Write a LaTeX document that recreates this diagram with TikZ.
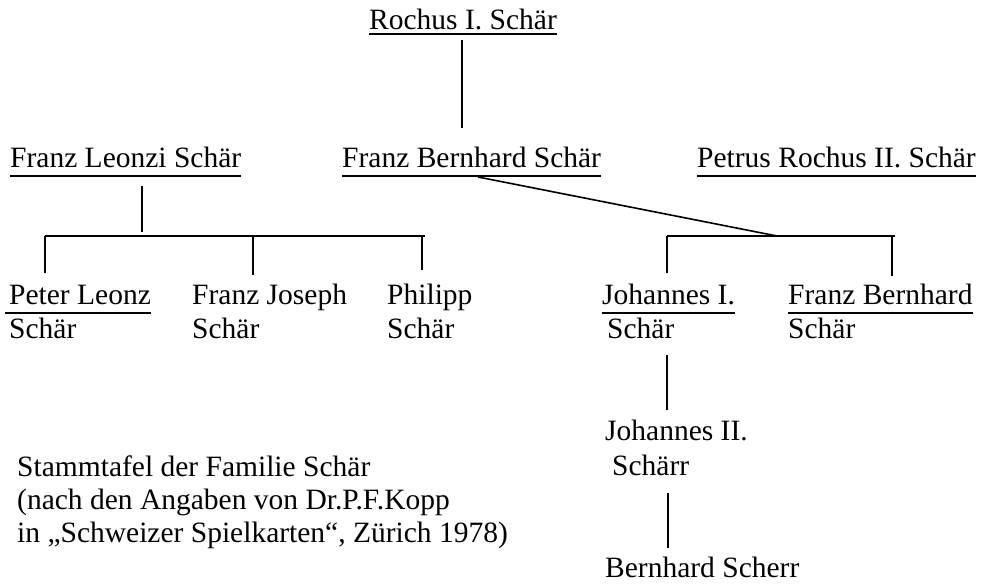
\documentclass[tikz,border=0pt]{standalone}
\usepackage{fontspec}
\setmainfont{Liberation Serif}
\begin{document}
\begin{tikzpicture}[x=1pt,y=-1pt,
  lbl/.style={anchor=base west, inner sep=0pt, font=\fontsize{29.5}{33}\selectfont},
  uline/.style={line width=1.3pt},
  conn/.style={line width=1.2pt},
  diag/.style={line width=1.6pt}]
\useasboundingbox[fill=white] (0,0) rectangle (988,585);

% generation 1
\node[lbl] (rochus) at (369,30) {Rochus I. Schär};
\draw[uline] ([yshift=-4pt]rochus.base west) -- ([yshift=-4pt]rochus.base east);

% generation 2
\node[lbl] (leonzi) at (10,168) {Franz Leonzi Schär};
\node[lbl] (bernhard) at (342,168) {Franz Bernhard Schär};
\node[lbl] (petrus) at (697,168) {Petrus Rochus II. Schär};
\foreach \n in {leonzi,bernhard,petrus}
  \draw[uline] ([yshift=-8pt]\n.base west) -- ([yshift=-8pt]\n.base east);

% generation 3
\node[lbl] (peter) at (9,305) {Peter Leonz};
\node[lbl] (peterB) at (9,338) {Schär};
\node[lbl] (joseph) at (192,305) {Franz Joseph};
\node[lbl] (josephB) at (192,338) {Schär};
\node[lbl] (philipp) at (387,305) {Philipp};
\node[lbl] (philippB) at (387,338) {Schär};
\node[lbl] (johI) at (602,305) {Johannes I.};
\node[lbl] (johIB) at (607,338) {Schär};
\node[lbl] (fb) at (788,305) {Franz Bernhard};
\node[lbl] (fbB) at (788,338) {Schär};
\draw[uline] ([xshift=-4pt,yshift=-8pt]peter.base west) -- ([yshift=-8pt]peter.base east);
\draw[uline] ([yshift=-8pt]johI.base west) -- ([yshift=-8pt]johI.base east);
\draw[uline] ([yshift=-8pt]fb.base west) -- ([yshift=-8pt]fb.base east);

% later generations
\node[lbl] (johII) at (605,440) {Johannes II.};
\node[lbl] (johIIB) at (612,475) {Schärr};
\node[lbl] (scherr) at (605,577) {Bernhard Scherr};

% caption
\node[lbl] (cap1) at (17,476) {Stammtafel der Familie Schär};
\node[lbl] (cap2) at (17,509) {(nach den Angaben von Dr.P.F.Kopp};
\node[lbl] (cap3) at (17,542) {in „Schweizer Spielkarten“, Zürich 1978)};

% junction coordinates
\coordinate (r0) at (462,40);
\coordinate (r1) at (462,128);
\coordinate (l0) at (142,186);
\coordinate (l1) at (142,232);
\coordinate (lh0) at (45,236);
\coordinate (lh1) at (425,236);
\coordinate (lm) at (253,236);
\coordinate (lr) at (422,236);
\coordinate (lp) at (45,273);
\coordinate (lj) at (253,275);
\coordinate (lph) at (422,270);
\coordinate (b0) at (478,177);
\coordinate (b1) at (777,236);
\coordinate (bh0) at (667,236);
\coordinate (bh1) at (895,236);
\coordinate (br) at (892,236);
\coordinate (bj) at (667,273);
\coordinate (bf) at (892,276);
\coordinate (j0) at (667,355);
\coordinate (j1) at (667,410);
\coordinate (k0) at (668,493);
\coordinate (k1) at (668,548);

% connectors
\draw[conn] (r0) -- (r1);
\draw[conn] (l0) -- (l1);
\draw[conn] (lh0) -- (lh1);
\draw[conn] (lh0) -- (lp);
\draw[conn] (lm) -- (lj);
\draw[conn] (lr) -- (lph);
\draw[diag] (b0) -- (b1);
\draw[conn] (bh0) -- (bh1);
\draw[conn] (bh0) -- (bj);
\draw[conn] (br) -- (bf);
\draw[conn] (j0) -- (j1);
\draw[conn] (k0) -- (k1);
\end{tikzpicture}
\end{document}
